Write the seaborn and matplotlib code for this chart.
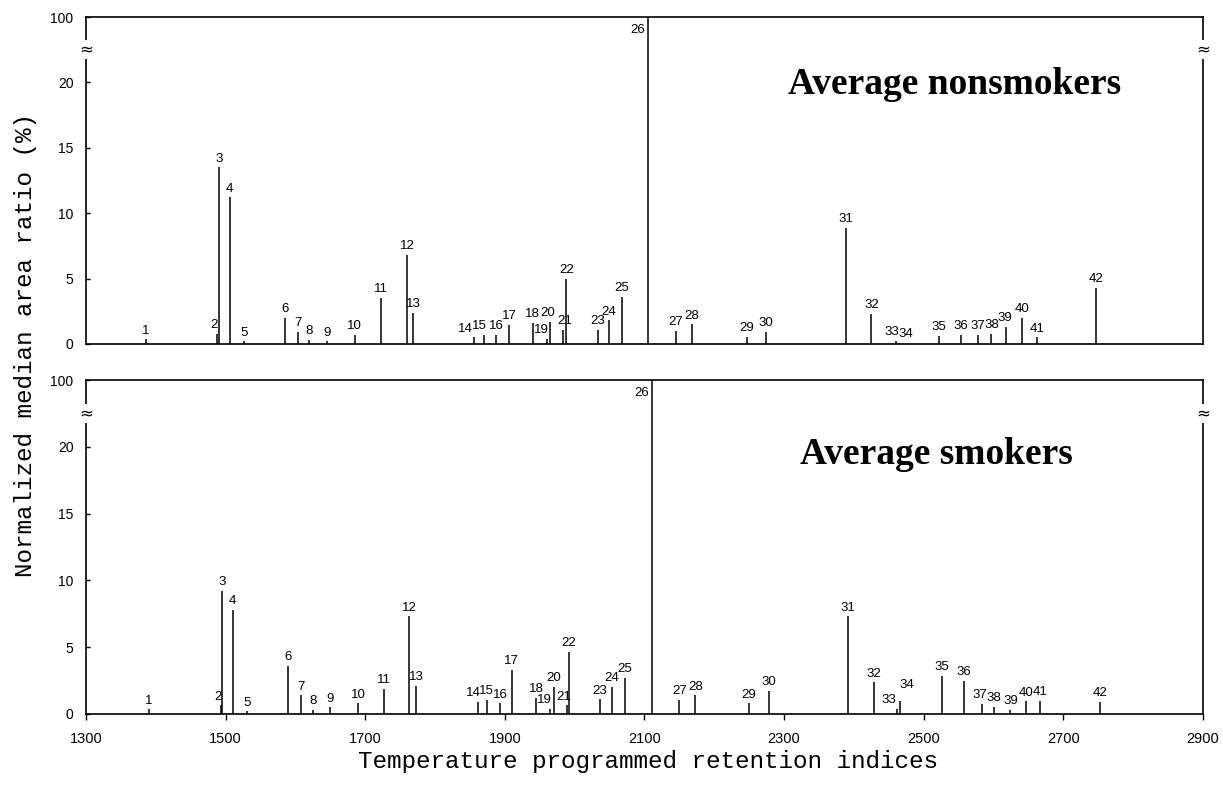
import matplotlib
matplotlib.use("Agg")
import matplotlib.pyplot as plt
import seaborn as sns
import pandas as pd
from matplotlib.transforms import blended_transform_factory

# ---------------- data ----------------
peak_ids = list(range(1, 43))

ri_nonsmokers = [1386, 1488, 1491, 1506, 1526, 1585, 1604, 1620, 1645, 1685,
                 1722, 1760, 1769, 1856, 1870, 1888, 1906, 1940, 1961, 1965,
                 1984, 1988, 2033, 2049, 2068, 2105, 2145, 2168, 2247, 2274,
                 2388, 2425, 2460, 2467, 2522, 2553, 2578, 2597, 2618, 2641,
                 2663, 2747]
area_nonsmokers = [0.35, 0.8, 13.5, 11.2, 0.2, 2.0, 0.95, 0.3, 0.2, 0.7,
                   3.5, 6.8, 2.4, 0.5, 0.7, 0.7, 1.45, 1.6, 0.4, 1.7,
                   1.1, 5.0, 1.1, 1.8, 3.6, 100, 1.0, 1.5, 0.55, 0.9,
                   8.9, 2.3, 0.25, 0.1, 0.6, 0.7, 0.7, 0.8, 1.3, 2.0,
                   0.5, 4.3]

ri_smokers = [1390, 1493, 1495, 1510, 1531, 1589, 1608, 1625, 1649, 1690,
              1727, 1763, 1773, 1861, 1874, 1893, 1910, 1945, 1965, 1970,
              1989, 1992, 2036, 2053, 2072, 2111, 2150, 2173, 2250, 2278,
              2391, 2429, 2462, 2466, 2526, 2558, 2584, 2601, 2623, 2646,
              2667, 2752]
area_smokers = [0.35, 0.65, 9.2, 7.8, 0.2, 3.6, 1.4, 0.3, 0.5, 0.8,
                1.9, 7.3, 2.1, 0.9, 1.05, 0.8, 3.3, 1.2, 0.4, 2.0,
                0.65, 4.65, 1.1, 2.0, 2.7, 100, 1.05, 1.4, 0.8, 1.7,
                7.3, 2.36, 0.4, 1.0, 2.86, 2.5, 0.75, 0.55, 0.3, 0.95,
                1.0, 0.9]

panel_titles = ["Average nonsmokers", "Average smokers"]
x_ticks = [1300, 1500, 1700, 1900, 2100, 2300, 2500, 2700, 2900]
y_ticks = [0, 5, 10, 15, 20]
y_break_label = "100"

# ---------------- style ----------------
sns.set_theme(style="ticks")
plt.rcParams["font.family"] = ["Liberation Sans Narrow", "Liberation Sans", "DejaVu Sans"]
for key in ("text.color", "axes.labelcolor", "xtick.color", "ytick.color", "axes.edgecolor"):
    plt.rcParams[key] = "black"

Y_TOP = 25.0      # axis top represents 100 %
BREAK = 22.5      # broken-axis position

# label nudges (points) for crowded peak labels: {peak: (dx, dy)}
nudge_top = {2: (-2, 0), 14: (-6, 0), 15: (-3, 0), 19: (-4, 0), 20: (-2, 0), 21: (1, 0),
             33: (-3, 0), 34: (4, 0), 39: (-1, 0)}
nudge_bot = {2: (-2, 0), 14: (-3, 0), 19: (-4, 0), 21: (-2, 0), 33: (-6, 0), 34: (5, 5),
             37: (-2, 0), 39: (1, 0)}

fig = plt.figure(figsize=(12.23, 7.92), dpi=100)
ax_top = fig.add_axes([0.0703, 0.5657, 0.9133, 0.4128])
ax_bot = fig.add_axes([0.0703, 0.0985, 0.9133, 0.4217])

panels = [
    (ax_top, ri_nonsmokers, area_nonsmokers, panel_titles[0], (2306, 19.1), nudge_top),
    (ax_bot, ri_smokers, area_smokers, panel_titles[1], (2323, 18.7), nudge_bot),
]

for ax, ri, area, title, tpos, nudges in panels:
    df = pd.DataFrame({"peak": peak_ids, "ri": ri, "area": area})
    df["shown"] = df["area"].where(df["area"] <= BREAK, Y_TOP + 1)
    ax.vlines(df["ri"], 0, df["shown"], color="black", linewidth=1.1)
    ax.set_xlim(1300, 2900)
    ax.set_ylim(0, Y_TOP)
    ax.set_yticks(y_ticks + [Y_TOP])
    ax.set_yticklabels([str(v) for v in y_ticks] + [y_break_label])
    ax.tick_params(axis="y", direction="in", length=3, width=1, pad=9, labelsize=10)
    for s in ax.spines.values():
        s.set_linewidth(1.2)
        s.set_color("black")
    ax.grid(False)
    for _, r in df.iterrows():
        pk = int(r["peak"])
        if r["area"] > BREAK:
            ax.annotate(str(pk), (r["ri"], Y_TOP), xytext=(-2, -5),
                        textcoords="offset points", ha="right", va="top", fontsize=9.5)
            continue
        dx, dy = nudges.get(pk, (0, 0))
        ax.annotate(str(pk), (r["ri"], r["shown"]), xytext=(dx, 2 + dy),
                    textcoords="offset points", ha="center", va="bottom", fontsize=9.5)
    ax.text(tpos[0], tpos[1], title, fontsize=27, fontweight="bold",
            family="Liberation Serif", ha="left", va="baseline", color="black")
    trans = blended_transform_factory(ax.transAxes, ax.transData)
    for xs in (0, 1):
        ax.text(xs, BREAK, "≈", transform=trans, ha="center", va="center",
                fontsize=12, family="DejaVu Sans",
                bbox=dict(facecolor="white", edgecolor="none", pad=0.3))

ax_top.set_xticks(x_ticks)
ax_top.tick_params(axis="x", length=0, labelbottom=False)
ax_bot.set_xticks(x_ticks)
ax_bot.set_xticklabels([str(v) for v in x_ticks])
ax_bot.tick_params(axis="x", direction="out", length=4, width=1, pad=9, labelsize=10.5)

fig.text(0.53, 0.038, "Temperature programmed retention indices",
         ha="center", va="center", fontsize=17.5, family="Liberation Mono")
fig.text(0.021, 0.565, "Normalized median area ratio (%)", rotation=90,
         ha="center", va="center", fontsize=17.5, family="Liberation Mono")

fig.savefig("out.png", dpi=100)
